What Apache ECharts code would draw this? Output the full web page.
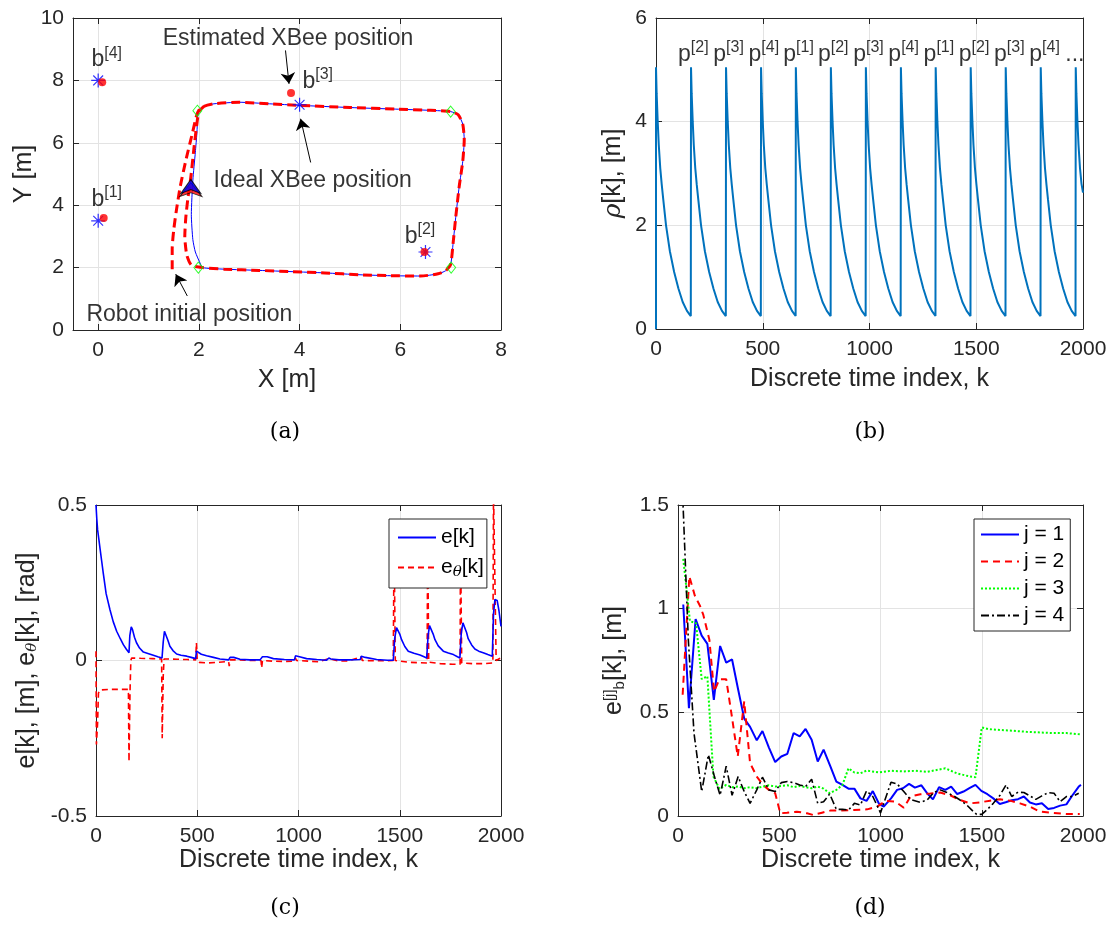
<!DOCTYPE html>
<html><head><meta charset="utf-8">
<script src="https://cdn.jsdelivr.net/npm/echarts@6/dist/echarts.min.js"></script>
<style>html,body{margin:0;padding:0;background:#fff}#c{width:1112px;height:935px}</style>
</head><body><div id="c"></div>
<script>
// ---------------- Panel (a) data ----------------
const beaconIdeal = [[0,3.5],[6.5,2.5],[4.0,7.22],[0,8.0]];
const beaconEst = [[0.11,3.59],[6.48,2.5],[3.83,7.6],[0.08,7.94]];
const beaconLabels = ['b{s|[1]}','b{s|[2]}','b{s|[3]}','b{s|[4]}'];
const beaconLabelPos = [[0.17,4.17],[6.39,2.98],[4.36,7.95],[0.17,8.65]];
const waypoints = [[1.97,7.03],[7.0,7.0],[7.01,2.0],[1.99,2.0]];
const estPath = [[1.47,1.95],[1.47,2.6],[1.5,3.2],[1.55,3.8],[1.63,4.6],[1.75,5.5],[1.87,6.3],[1.95,6.85],[2.0,7.05],[2.1,7.17],[2.3,7.25],[2.8,7.3],[3.4,7.25],[4.0,7.2],[5.0,7.13],[5.9,7.08],[6.6,7.04],[7.0,7.0],[7.15,6.9],[7.24,6.6],[7.27,6.1],[7.24,5.4],[7.17,4.6],[7.1,3.6],[7.05,2.8],[7.0,2.1],[6.9,1.9],[6.75,1.8],[6.4,1.73],[5.8,1.74],[5.2,1.77],[4.5,1.83],[3.85,1.87],[3.2,1.91],[2.5,1.95],[2.07,2.0],[1.85,2.08],[1.76,2.4],[1.72,3.0],[1.74,3.6],[1.78,4.2],[1.84,4.9],[1.9,5.8],[1.96,6.6],[2.0,7.0],[2.1,7.17]];
const truePath = [[2.0,7.0],[2.1,7.17],[2.3,7.25],[2.8,7.3],[3.4,7.25],[4.0,7.2],[5.0,7.13],[5.9,7.08],[6.6,7.04],[7.0,7.0],[7.15,6.9],[7.24,6.6],[7.27,6.1],[7.24,5.4],[7.17,4.6],[7.1,3.6],[7.05,2.8],[7.0,2.1],[6.9,1.9],[6.75,1.8],[6.4,1.73],[5.8,1.74],[5.2,1.77],[4.5,1.83],[3.85,1.87],[3.2,1.91],[2.5,1.95],[2.07,2.0],[2.03,2.12],[1.93,2.5],[1.88,2.9],[1.85,3.7],[1.88,4.8],[1.93,5.7],[1.96,6.3],[1.98,6.9],[2.0,7.0]];
const robotPos = [[1.84,4.6]];
const annoText = ['Estimated XBee position','Ideal XBee position','Robot initial position'];
const annoPos = [[3.77,9.33],[4.26,4.79],[1.81,0.5]];
const arrowSegs = [[[3.72,8.96],[3.79,7.89]],[[4.22,5.37],[4.02,6.77]],[[1.77,1.09],[1.54,1.79]]];
const aXTicks = [0,2,4,6,8];

// ---------------- Panel (b) data ----------------
const rhoData = [
 [0,0],[0,5.05],[3,4.55],[8,4.0],[13,3.55],[20,3.1],[27,2.78],[34,2.5],[47,2.0],[65,1.5],[85,1.1],[105,0.78],[125,0.52],[145,0.35],[163,0.25],
 [164,5.05],[167,4.55],[172,4.0],[177,3.55],[184,3.1],[191,2.78],[198,2.5],[211,2.0],[229,1.5],[249,1.1],[269,0.78],[289,0.52],[309,0.35],[327,0.25],
 [328,5.05],[331,4.55],[336,4.0],[341,3.55],[348,3.1],[355,2.78],[362,2.5],[375,2.0],[393,1.5],[413,1.1],[433,0.78],[453,0.52],[473,0.35],[491,0.25],
 [492,5.05],[495,4.55],[500,4.0],[505,3.55],[512,3.1],[519,2.78],[526,2.5],[539,2.0],[557,1.5],[577,1.1],[597,0.78],[617,0.52],[637,0.35],[654,0.25],
 [655,5.05],[658,4.55],[663,4.0],[668,3.55],[675,3.1],[682,2.78],[689,2.5],[702,2.0],[720,1.5],[740,1.1],[760,0.78],[780,0.52],[800,0.35],[818,0.25],
 [819,5.05],[822,4.55],[827,4.0],[832,3.55],[839,3.1],[846,2.78],[853,2.5],[866,2.0],[884,1.5],[904,1.1],[924,0.78],[944,0.52],[964,0.35],[982,0.25],
 [983,5.05],[986,4.55],[991,4.0],[996,3.55],[1003,3.1],[1010,2.78],[1017,2.5],[1030,2.0],[1048,1.5],[1068,1.1],[1088,0.78],[1108,0.52],[1128,0.35],[1146,0.25],
 [1147,5.05],[1150,4.55],[1155,4.0],[1160,3.55],[1167,3.1],[1174,2.78],[1181,2.5],[1194,2.0],[1212,1.5],[1232,1.1],[1252,0.78],[1272,0.52],[1292,0.35],[1309,0.25],
 [1310,5.05],[1313,4.55],[1318,4.0],[1323,3.55],[1330,3.1],[1337,2.78],[1344,2.5],[1357,2.0],[1375,1.5],[1395,1.1],[1415,0.78],[1435,0.52],[1455,0.35],[1473,0.25],
 [1474,5.05],[1477,4.55],[1482,4.0],[1487,3.55],[1494,3.1],[1501,2.78],[1508,2.5],[1521,2.0],[1539,1.5],[1559,1.1],[1579,0.78],[1599,0.52],[1619,0.35],[1637,0.25],
 [1638,5.05],[1641,4.55],[1646,4.0],[1651,3.55],[1658,3.1],[1665,2.78],[1672,2.5],[1685,2.0],[1703,1.5],[1723,1.1],[1743,0.78],[1763,0.52],[1783,0.35],[1801,0.25],
 [1802,5.05],[1805,4.55],[1810,4.0],[1815,3.55],[1822,3.1],[1829,2.78],[1836,2.5],[1849,2.0],[1867,1.5],[1887,1.1],[1907,0.78],[1927,0.52],[1947,0.35],[1965,0.25],
 [1966,5.05],[1969,4.55],[1974,4.0],[1979,3.55],[1986,3.1],[1993,2.8],[2000,2.63]
];
const pLabels = ['p{s|[2]}','p{s|[3]}','p{s|[4]}','p{s|[1]}','p{s|[2]}','p{s|[3]}','p{s|[4]}','p{s|[1]}','p{s|[2]}','p{s|[3]}','p{s|[4]}','...'];
const pLabelK = [175,340,505,668,830,995,1160,1325,1490,1655,1820,1962];
const pLabelY = 5.3;

// ---------------- Panel (c) data ----------------
const eK = [[0,0.5],[4,0.455],[8,0.42],[14,0.39],[20,0.36],[28,0.32],[36,0.28],[50,0.215],[69,0.163],[85,0.125],[102,0.094],[120,0.07],[135,0.051],[150,0.036],[163,0.025],[167,0.08],[174,0.108],[180,0.1],[190,0.075],[200,0.057],[215,0.04],[234,0.027],[260,0.022],[283,0.017],[305,0.012],[326,0.008],[332,0.06],[338,0.094],[344,0.092],[355,0.065],[365,0.046],[380,0.032],[398,0.021],[420,0.017],[448,0.014],[470,0.01],[492,0.006],[496,0.03],[502,0.027],[520,0.02],[546,0.015],[580,0.01],[612,0.005],[655,0.002],[662,0.01],[670,0.014],[680,0.01],[711,0.004],[760,0.002],[810,0.002],[822,0.012],[830,0.017],[845,0.012],[876,0.006],[930,0.003],[980,0.002],[985,0.015],[990,0.019],[1005,0.012],[1040,0.006],[1090,0.003],[1139,0.001],[1150,0.008],[1160,0.005],[1200,0.002],[1250,0.002],[1305,0.003],[1310,0.014],[1316,0.016],[1330,0.01],[1386,0.003],[1440,0.001],[1468,0.001],[1475,0.07],[1484,0.106],[1490,0.104],[1500,0.085],[1509,0.067],[1525,0.045],[1542,0.03],[1570,0.023],[1600,0.018],[1620,0.012],[1633,0.008],[1640,0.08],[1647,0.112],[1653,0.11],[1665,0.085],[1674,0.067],[1690,0.047],[1715,0.03],[1740,0.024],[1765,0.019],[1785,0.012],[1797,0.008],[1804,0.09],[1812,0.121],[1818,0.118],[1830,0.09],[1838,0.07],[1855,0.05],[1871,0.037],[1890,0.03],[1912,0.025],[1935,0.019],[1957,0.014],[1963,0.15],[1970,0.196],[1981,0.193],[1990,0.16],[2000,0.11]];
const eTheta = [[0,0.03],[2,-0.27],[8,-0.2],[12,-0.105],[20,-0.095],[60,-0.093],[120,-0.093],[160,-0.093],[163,-0.325],[168,-0.1],[172,0.0],[176,0.008],[220,0.007],[280,0.006],[324,0.005],[327,-0.25],[332,-0.05],[336,0.005],[400,0.004],[450,0.003],[492,0.002],[496,0.057],[500,0.0],[510,-0.006],[550,-0.008],[600,-0.006],[640,-0.004],[655,-0.004],[658,-0.018],[662,0.002],[700,0.002],[760,0.0],[815,0.0],[818,-0.024],[822,0.0],[870,-0.002],[930,-0.003],[980,-0.002],[985,0.008],[990,0.0],[1050,-0.002],[1100,-0.004],[1150,0.006],[1155,0.0],[1200,-0.002],[1250,-0.001],[1310,0.012],[1315,0.0],[1380,-0.001],[1440,-0.001],[1468,0.0],[1472,0.4],[1478,0.0],[1485,-0.005],[1550,-0.006],[1600,-0.007],[1635,-0.008],[1638,0.4],[1643,-0.005],[1700,-0.01],[1760,-0.012],[1798,-0.012],[1800,0.4],[1806,-0.008],[1860,-0.01],[1920,-0.01],[1960,-0.008],[1963,0.55],[1972,0.55],[1976,0.0],[2000,0.009]];

// ---------------- Panel (d) data ----------------
const ebJ1 = [[26,1.02],[54,0.52],[87,0.95],[117,0.87],[145,0.83],[177,0.56],[208,0.82],[238,0.74],[267,0.755],[297,0.61],[327,0.47],[356,0.43],[389,0.365],[417,0.41],[449,0.33],[480,0.26],[510,0.287],[540,0.30],[571,0.40],[601,0.384],[630,0.42],[660,0.368],[690,0.263],[719,0.32],[752,0.24],[782,0.166],[812,0.15],[842,0.132],[871,0.132],[901,0.085],[931,0.073],[962,0.12],[992,0.06],[1016,0.045],[1052,0.085],[1082,0.126],[1111,0.134],[1141,0.155],[1170,0.137],[1202,0.148],[1230,0.11],[1259,0.08],[1289,0.139],[1320,0.126],[1349,0.142],[1379,0.106],[1410,0.118],[1439,0.134],[1469,0.15],[1498,0.121],[1528,0.105],[1557,0.085],[1589,0.058],[1618,0.066],[1648,0.076],[1679,0.081],[1708,0.094],[1738,0.065],[1767,0.056],[1797,0.061],[1828,0.034],[1857,0.039],[1887,0.05],[1918,0.056],[1948,0.10],[1979,0.142],[1990,0.15]];
const ebJ2 = [[23,0.585],[56,1.155],[84,1.06],[109,1.013],[125,0.97],[155,0.85],[178,0.60],[205,0.66],[238,0.66],[266,0.48],[295,0.287],[327,0.553],[356,0.255],[389,0.19],[420,0.15],[449,0.126],[480,0.11],[505,0.013],[538,0.016],[587,0.021],[637,0.013],[667,0.005],[711,0.016],[752,0.026],[802,0.026],[868,0.029],[934,0.032],[984,0.045],[1025,0.073],[1074,0.069],[1115,0.04],[1148,0.094],[1197,0.105],[1246,0.108],[1295,0.113],[1344,0.10],[1393,0.077],[1443,0.061],[1492,0.066],[1541,0.074],[1590,0.081],[1639,0.074],[1689,0.061],[1738,0.045],[1787,0.021],[1852,0.015],[1918,0.01],[1984,0.01]];
const ebJ3 = [[26,1.24],[59,0.94],[89,0.93],[117,0.66],[145,0.674],[175,0.19],[205,0.13],[238,0.15],[267,0.139],[297,0.142],[327,0.134],[356,0.139],[389,0.134],[417,0.142],[449,0.148],[480,0.142],[510,0.145],[540,0.148],[571,0.139],[601,0.145],[630,0.139],[660,0.134],[690,0.142],[719,0.132],[749,0.11],[782,0.126],[812,0.15],[842,0.23],[871,0.21],[901,0.206],[931,0.219],[992,0.21],[1049,0.218],[1111,0.215],[1172,0.218],[1230,0.213],[1262,0.219],[1320,0.23],[1377,0.206],[1443,0.19],[1469,0.187],[1500,0.427],[1533,0.419],[1590,0.415],[1656,0.411],[1721,0.406],[1787,0.403],[1852,0.40],[1918,0.40],[1984,0.394]];
const ebJ4 = [[23,1.55],[51,0.85],[79,0.4],[117,0.118],[150,0.295],[180,0.19],[208,0.10],[238,0.24],[267,0.10],[297,0.19],[327,0.118],[356,0.061],[389,0.126],[417,0.187],[449,0.126],[480,0.118],[510,0.161],[540,0.166],[571,0.161],[601,0.15],[630,0.142],[660,0.177],[690,0.061],[719,0.069],[749,0.106],[782,0.032],[812,0.032],[842,0.029],[871,0.061],[901,0.053],[931,0.121],[962,0.094],[1000,0.015],[1052,0.163],[1082,0.155],[1115,0.118],[1148,0.08],[1197,0.066],[1230,0.077],[1262,0.113],[1295,0.126],[1328,0.113],[1361,0.097],[1393,0.077],[1426,0.053],[1459,0.021],[1475,0.008],[1500,0.008],[1525,0.029],[1557,0.061],[1590,0.10],[1620,0.15],[1648,0.094],[1679,0.115],[1708,0.113],[1738,0.097],[1767,0.08],[1797,0.097],[1828,0.113],[1857,0.11],[1887,0.069],[1918,0.094],[1948,0.094],[1979,0.11]];
const ebNames = ['j = 1','j = 2','j = 3','j = 4'];

// ---------------- styling / build ----------------
const FONT = '"Liberation Sans", Arial, Helvetica, sans-serif';
const TXT = '#262626';
const GRIDC = '#e3e3e3';
const TICKF = 21, NAMEF = 25;
const xAxis = [], yAxis = [];
function baseAxis(gi, min, max, interval){
  return {gridIndex: gi, type:'value', min, max, interval,
    axisLine:{show:true, onZero:false, lineStyle:{color:TXT, width:1}},
    axisTick:{show:true, inside:true, length:6, lineStyle:{color:TXT}}};
}
const plain = v => String(v);
function addAxes(gi, xo, yo){
  const xb = baseAxis(gi, xo.min, xo.max, xo.interval);
  const yb = baseAxis(gi, yo.min, yo.max, yo.interval);
  const xMain = Object.assign({}, xb, {position:'bottom',
    axisLabel:{color:TXT, fontSize:TICKF, fontFamily:FONT, margin:xo.lm, formatter:plain},
    splitLine:{show:true, lineStyle:{color:GRIDC, width:1}},
    name: xo.name, nameLocation:'middle', nameGap: xo.gap,
    nameTextStyle:{color:TXT, fontSize:NAMEF, fontFamily:FONT}});
  const xTop = Object.assign({}, xb, {position:'top', axisLabel:{show:false}, splitLine:{show:false}});
  if (xo.custom){
    xMain.axisLabel.customValues = xo.custom;
    xMain.axisTick = Object.assign({}, xMain.axisTick, {customValues: xo.custom});
    xTop.axisTick = Object.assign({}, xTop.axisTick, {customValues: xo.custom});
  }
  xAxis.push(xMain, xTop);
  yAxis.push(Object.assign({}, yb, {position:'left',
    axisLabel:{color:TXT, fontSize:TICKF, fontFamily:FONT, margin:9, formatter:plain},
    splitLine:{show:true, lineStyle:{color:GRIDC, width:1}},
    name: yo.name, nameLocation:'middle', nameGap: yo.gap, nameRotate:90,
    nameTextStyle:{color:TXT, fontSize:NAMEF, fontFamily:FONT, rich: yo.rich || {}}}),
    Object.assign({}, yb, {position:'right', axisLabel:{show:false}, splitLine:{show:false}}));
}
addAxes(0, {min:-0.5, max:8, custom:aXTicks, name:'X [m]', gap:38, lm:10}, {min:0, max:10, interval:2, name:'Y [m]', gap:36});
addAxes(1, {min:0, max:2000, interval:500, name:'Discrete time index, k', gap:38, lm:10},
  {min:0, max:6, interval:2, name:'{i|ρ}[k], [m]', gap:30, rich:{i:{fontSize:NAMEF, fontStyle:'italic', fontFamily:'"DejaVu Serif", serif', color:TXT}}});
addAxes(2, {min:0, max:2000, interval:500, name:'Discrete time index, k', gap:31, lm:10},
  {min:-0.5, max:0.5, interval:0.5, name:'e[k], [m], e{sub|θ}[k], [rad]', gap:56,
   rich:{sub:{fontSize:15, fontStyle:'italic', fontFamily:'"DejaVu Serif", serif', color:TXT, verticalAlign:'bottom', padding:[10,0,0,0]}}});
addAxes(3, {min:0, max:2000, interval:500, name:'Discrete time index, k', gap:31, lm:10},
  {min:0, max:1.5, interval:0.5, name:'e{sup|[j]}{sub|b}[k], [m]', gap:51,
   rich:{sup:{fontSize:15, fontFamily:FONT, color:TXT, verticalAlign:'top', padding:[0,0,10,0]},
         sub:{fontSize:15, fontFamily:FONT, color:TXT, verticalAlign:'bottom', padding:[10,0,0,0]}}});

const supRich = (big, small) => ({
  base:{fontSize:big, fontFamily:FONT, color:'#000'},
  s:{fontSize:small, fontFamily:FONT, color:'#000', verticalAlign:'top', padding:[0,0,14,0]}
});

const asterisk = 'path://M10,0L10,20M0,10L20,10M3,3L17,17M3,17L17,3';
const arrowHead = 'path://M0,0L9,18L0,13L-9,18Z';

const series = [
  // (a)
  {type:'line', xAxisIndex:0, yAxisIndex:0, data: truePath, symbol:'none', smooth:0.2,
   lineStyle:{color:'#0000ff', width:1}, z:2},
  {type:'line', xAxisIndex:0, yAxisIndex:0, data: estPath, symbol:'none', smooth:0.2,
   lineStyle:{color:'#ff0000', width:3, type:[9,5]}, z:3},
  {type:'scatter', xAxisIndex:0, yAxisIndex:0, data: waypoints, symbol:'diamond', symbolSize:[9,11],
   itemStyle:{color:'rgba(0,0,0,0)', borderColor:'#00ff00', borderWidth:1}, z:4},
  {type:'scatter', xAxisIndex:0, yAxisIndex:0, data: beaconIdeal, symbol:asterisk, symbolSize:14,
   itemStyle:{color:'none', borderColor:'#0000ff', borderWidth:1.2}, z:5},
  {type:'scatter', xAxisIndex:0, yAxisIndex:0, data: beaconEst, symbol:'circle', symbolSize:8,
   itemStyle:{color:'#ff0000'}, z:6},
  {type:'scatter', xAxisIndex:0, yAxisIndex:0, data: robotPos, symbol:arrowHead, symbolSize:[22,14], symbolOffset:[0,3],
   itemStyle:{color:'#ff0000', borderColor:'#000', borderWidth:1}, z:6},
  {type:'scatter', xAxisIndex:0, yAxisIndex:0, data: robotPos, symbol:arrowHead, symbolSize:[20,14],
   itemStyle:{color:'#0000ff', borderColor:'#000', borderWidth:1}, z:7},
  {type:'scatter', xAxisIndex:0, yAxisIndex:0, symbolSize:1, itemStyle:{color:'rgba(0,0,0,0)'},
   data: beaconLabelPos.map((p,i)=>({value:p, name:beaconLabels[i]})),
   label:{show:true, position:'inside', formatter:'{b}', color:'#000', fontSize:23, fontFamily:FONT, rich: supRich(23,16)}, z:8},
  {type:'scatter', xAxisIndex:0, yAxisIndex:0, symbolSize:1, itemStyle:{color:'rgba(0,0,0,0)'},
   data: annoPos.map((p,i)=>({value:p, name:annoText[i]})),
   label:{show:true, position:'inside', formatter:'{b}', color:'#000', fontSize:23, fontFamily:FONT}, z:8},
  {type:'lines', coordinateSystem:'cartesian2d', xAxisIndex:0, yAxisIndex:0,
   data: arrowSegs.map(s=>({coords:s})), symbol:['none','arrow'], symbolSize:11,
   lineStyle:{color:'#000', width:1, opacity:1, curveness:0}, z:8},
  // (b)
  {type:'line', xAxisIndex:2, yAxisIndex:2, data: rhoData, symbol:'none',
   lineStyle:{color:'#0072BD', width:2}},
  {type:'scatter', xAxisIndex:2, yAxisIndex:2, symbolSize:1, itemStyle:{color:'rgba(0,0,0,0)'},
   data: pLabelK.map((k,i)=>({value:[k, pLabelY], name:pLabels[i]})),
   label:{show:true, position:'inside', formatter:'{b}', color:'#000', fontSize:23, fontFamily:FONT, rich: supRich(23,16)}, z:8},
  // (c)
  {name:'e[k]', type:'line', xAxisIndex:4, yAxisIndex:4, data: eK, symbol:'none',
   lineStyle:{color:'#0000ff', width:1.6}, z:3},
  {name:'eθ[k]', type:'line', xAxisIndex:4, yAxisIndex:4, data: eTheta, symbol:'none',
   lineStyle:{color:'#ff0000', width:1.6, type:[6,4]}, z:2},
  // (d)
  {name:ebNames[0], type:'line', xAxisIndex:6, yAxisIndex:6, data: ebJ1, symbol:'none',
   lineStyle:{color:'#0000ff', width:2}},
  {name:ebNames[1], type:'line', xAxisIndex:6, yAxisIndex:6, data: ebJ2, symbol:'none',
   lineStyle:{color:'#ff0000', width:2, type:[7,5]}},
  {name:ebNames[2], type:'line', xAxisIndex:6, yAxisIndex:6, data: ebJ3, symbol:'none',
   lineStyle:{color:'#00ff00', width:2, type:[2,2]}},
  {name:ebNames[3], type:'line', xAxisIndex:6, yAxisIndex:6, data: ebJ4, symbol:'none',
   lineStyle:{color:'#000000', width:1.6, type:[8,3,2,3]}}
];

const legendBase = {orient:'vertical', backgroundColor:'#fff', borderColor:TXT, borderWidth:1, borderRadius:0,
  itemHeight:14, selectedMode:false, itemStyle:{opacity:0}, z:10,
  textStyle:{color:'#000', fontSize:21, fontFamily:FONT}};

const option = {
  animation:false,
  backgroundColor:'#fff',
  grid:[
    {left:73, top:18, width:428, height:312},
    {left:656, top:18, width:427, height:311},
    {left:96, top:505, width:405, height:311},
    {left:678, top:505, width:405, height:311}
  ],
  xAxis, yAxis, series,
  legend:[
    Object.assign({}, legendBase, {left:389, top:519, padding:[8,3,8,8], itemGap:9, itemWidth:38, data:['e[k]','eθ[k]'],
      formatter: n => n === 'eθ[k]' ? 'e{sub|θ}[k]' : n,
      textStyle:{color:'#000', fontSize:21, fontFamily:FONT,
        rich:{sub:{fontSize:15, fontStyle:'italic', fontFamily:'"DejaVu Serif", serif', color:'#000', verticalAlign:'bottom', padding:[10,0,0,0]}}}}),
    Object.assign({}, legendBase, {left:974, top:519, padding:[5,6,5,6], itemGap:6, itemWidth:38, data:ebNames})
  ],
  graphic:[
    {type:'text', style:{x:285, y:432, text:'(a)', font:'22px "DejaVu Serif", "Liberation Serif", serif', fill:'#000', textAlign:'center', textVerticalAlign:'middle'}},
    {type:'text', style:{x:870, y:432, text:'(b)', font:'22px "DejaVu Serif", "Liberation Serif", serif', fill:'#000', textAlign:'center', textVerticalAlign:'middle'}},
    {type:'text', style:{x:285, y:908, text:'(c)', font:'22px "DejaVu Serif", "Liberation Serif", serif', fill:'#000', textAlign:'center', textVerticalAlign:'middle'}},
    {type:'text', style:{x:870, y:908, text:'(d)', font:'22px "DejaVu Serif", "Liberation Serif", serif', fill:'#000', textAlign:'center', textVerticalAlign:'middle'}}
  ]
};
const chart = echarts.init(document.getElementById('c'), null, {renderer:'canvas'});
chart.setOption(option);
</script></body></html>
